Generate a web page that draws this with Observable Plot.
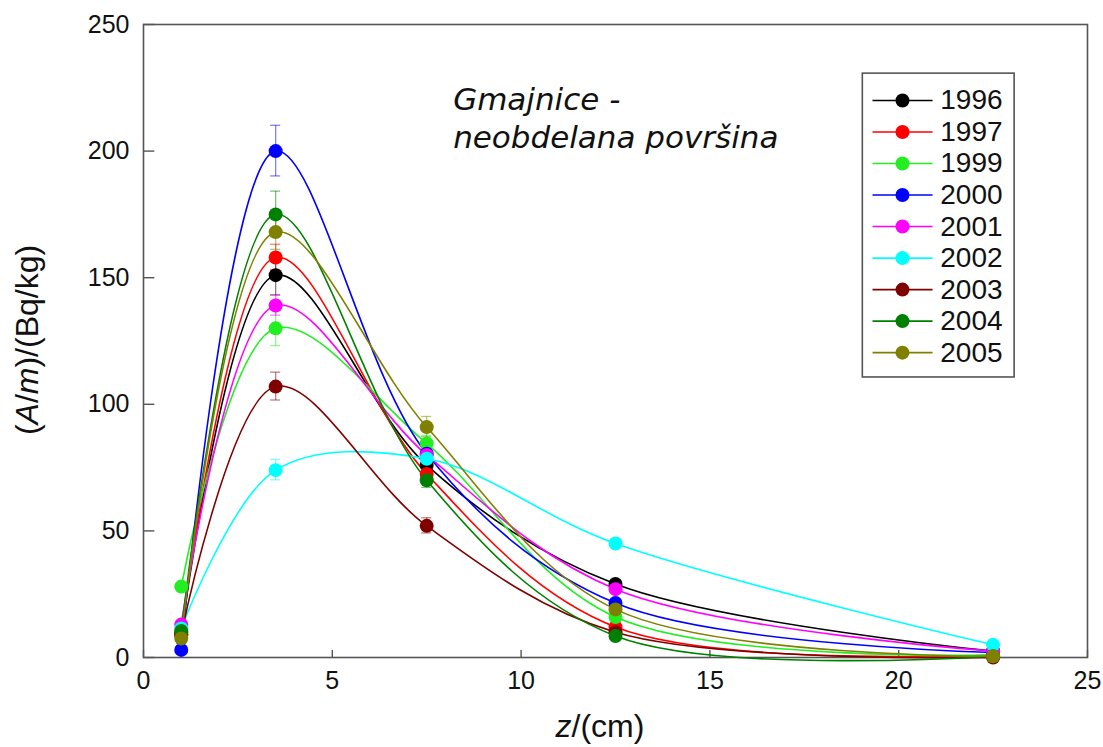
<!DOCTYPE html>
<html>
<head>
<meta charset="utf-8">
<script src="https://cdn.jsdelivr.net/npm/d3@7"></script>
<script src="https://cdn.jsdelivr.net/npm/@observablehq/plot@0.6"></script>
<style>
  html, body { margin: 0; padding: 0; background: #fff; }
  #chart { width: 1103px; height: 747px; }
</style>
</head>
<body>
<div id="chart"></div>
<script>
// ---- data ----
const depths = [1, 3.5, 7.5, 12.5, 22.5];           // z / cm
const years  = ["1996", "1997", "1999", "2000", "2001", "2002", "2003", "2004", "2005"];
const colors = ["#000000", "#ff0000", "#22ee22", "#0000ff", "#ff00ff", "#00ffff", "#800000", "#008000", "#808000"];

const v1996 = [9, 151, 76, 29, 2.5];
const v1997 = [10, 158, 72.5, 12, 1];
const v1999 = [28, 130, 84.5, 16, 1];
const v2000 = [3, 200, 80.5, 21.5, 2];
const v2001 = [13, 139, 80, 27, 2.5];
const v2002 = [11.5, 74, 78.5, 45, 5];
const v2003 = [9, 107, 52, 10, 0];
const v2004 = [10.5, 175, 70, 8.5, 0.5];
const v2005 = [7.5, 168, 91, 19, 0.5];

const e1996 = [0, 8, 3, 0, 0];
const e1997 = [0, 5, 3, 0, 0];
const e1999 = [0, 7, 3, 0, 0];
const e2000 = [0, 10, 3, 0, 0];
const e2001 = [0, 4, 3, 0, 0];
const e2002 = [0, 4, 3, 0, 0];
const e2003 = [0, 5.5, 3, 0, 0];
const e2004 = [0, 9, 3, 0, 0];
const e2005 = [0, 7, 4, 0, 0];

const xTicks = [0, 5, 10, 15, 20, 25];
const yTicks = [0, 50, 100, 150, 200, 250];
const titleText = "Gmajnice -\nneobdelana površina";

// ---- build table ----
const valueSets = [v1996, v1997, v1999, v2000, v2001, v2002, v2003, v2004, v2005];
const errSets   = [e1996, e1997, e1999, e2000, e2001, e2002, e2003, e2004, e2005];
const rows = [];
years.forEach((yr, i) => depths.forEach((z, j) => rows.push({year: yr, z, v: valueSets[i][j], e: errSets[i][j]})));
const errRows = rows.filter(d => d.e > 0);
const legendRows = years.map((yr, i) => ({year: yr, row: i}));

const font = "'Liberation Sans', Arial, sans-serif";
const legY = d => 220 - d.row * 12.45;

const plot = Plot.plot({
  width: 1103,
  height: 747,
  marginLeft: 143,
  marginRight: 16,
  marginTop: 24,
  marginBottom: 90,
  style: {fontFamily: font, fontSize: "24px", color: "#111", background: "#fff"},
  x: {type: "linear", domain: [0, 25], label: null},
  y: {type: "linear", domain: [0, 250], label: null},
  color: {type: "ordinal", domain: years, range: colors},
  marks: [
    Plot.frame({stroke: "#555", strokeWidth: 1.6}),
    Plot.axisX({ticks: xTicks, tickSize: 0, tickPadding: 14, fontSize: 25, label: null}),
    Plot.axisY({ticks: yTicks, tickSize: 0, tickPadding: 14, fontSize: 25, label: null}),
    Plot.ruleX(xTicks, {x: d => d, y1: 0, y2: 2.8, stroke: "#555", strokeWidth: 1.4}),
    Plot.ruleY(yTicks, {y: d => d, x1: 0, x2: 0.3, stroke: "#555", strokeWidth: 1.4}),
    Plot.text([titleText], {x: 8.2, y: 227, text: d => d, textAnchor: "start", lineAnchor: "top",
      fontSize: 31, fontStyle: "italic", fontFamily: "'DejaVu Sans', Verdana, sans-serif", lineHeight: 1.23, fill: "#111"}),
    // error bars
    Plot.ruleX(errRows, {x: "z", y1: d => d.v - d.e, y2: d => d.v + d.e, stroke: "year", strokeOpacity: 0.5, strokeWidth: 1.3}),
    Plot.line(rows, {x: "z", y: "v", z: "year", stroke: "year", strokeWidth: 1.6, curve: "catmull-rom"}),
    Plot.dot(rows, {x: "z", y: "v", fill: "year", r: 7}),
    // legend
    Plot.rect([0], {x1: 19.05, x2: 23.07, y1: 110.6, y2: 230.6, stroke: "#555", strokeWidth: 1.6, fill: "white"}),
    Plot.ruleY(legendRows, {y: legY, x1: 19.32, x2: 20.91, stroke: "year", strokeWidth: 1.6}),
    Plot.dot(legendRows, {y: legY, x: 20.1, fill: "year", r: 7}),
    Plot.text(legendRows, {y: legY, x: 21.1, text: "year", textAnchor: "start", fontSize: 28, fill: "#111"})
  ]
});

const svg = d3.select(plot);
const sx = plot.scale("x"), sy = plot.scale("y");
// error-bar caps
const capG = svg.insert("g", "g[aria-label='line']");
errRows.forEach(d => {
  const c = colors[years.indexOf(d.year)];
  [d.v - d.e, d.v + d.e].forEach(val => {
    capG.append("line")
      .attr("x1", sx.apply(d.z) - 5).attr("x2", sx.apply(d.z) + 5)
      .attr("y1", sy.apply(val)).attr("y2", sy.apply(val))
      .attr("stroke", c).attr("stroke-opacity", 0.5).attr("stroke-width", 1.3);
  });
});

// axis titles with mixed italic
const xt = svg.append("text")
  .attr("x", 600).attr("y", 737)
  .attr("text-anchor", "middle")
  .attr("font-family", font).attr("font-size", 32).attr("fill", "#111");
xt.append("tspan").attr("font-style", "italic").text("z");
xt.append("tspan").text("/(cm)");

const yt = svg.append("text")
  .attr("transform", "translate(38,340) rotate(-90)")
  .attr("text-anchor", "middle")
  .attr("font-family", font).attr("font-size", 32).attr("fill", "#111");
yt.append("tspan").text("(");
yt.append("tspan").attr("font-style", "italic").text("A");
yt.append("tspan").text("/");
yt.append("tspan").attr("font-style", "italic").text("m");
yt.append("tspan").text(")/(Bq/kg)");

document.getElementById("chart").appendChild(plot);
</script>
</body>
</html>
